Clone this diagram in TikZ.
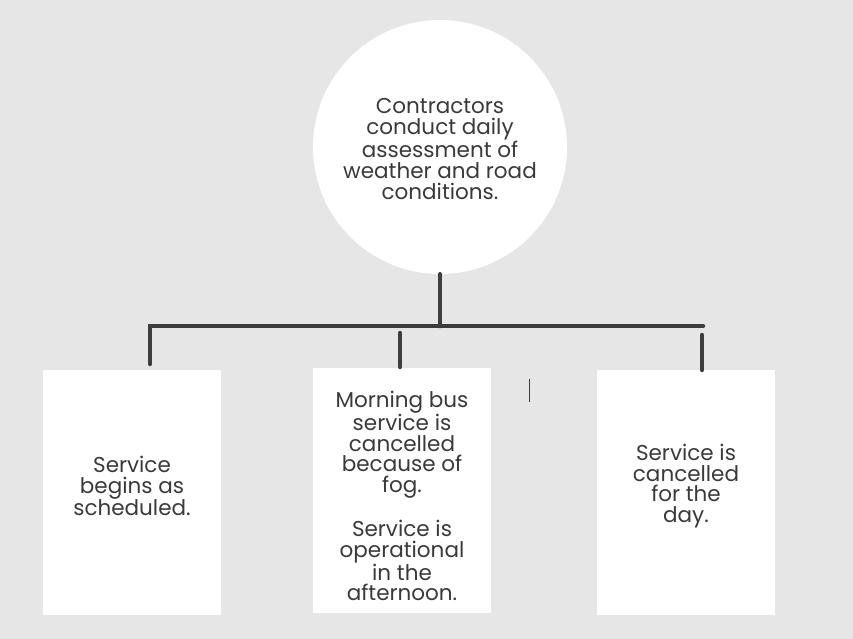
\documentclass[tikz,border=0pt]{standalone}
\usepackage{fontspec}
\setmainfont{Poppins}
\definecolor{bgc}{HTML}{E6E6E6}
\definecolor{linec}{HTML}{3D3D3D}
\definecolor{textc}{HTML}{3A3A3A}
\begin{document}
\begin{tikzpicture}[x=1pt,y=-1pt,
  conn/.style={line width=4.5pt, draw=linec, line cap=round},
  card/.style={fill=white, minimum width=178pt, minimum height=245pt, inner sep=0pt},
  txt/.style={text=textc, align=center, inner sep=0pt,
              font=\fontsize{21.5}{20.7}\selectfont}]
  % page background
  \fill[bgc] (0,0) rectangle (853,639);
  \useasboundingbox (0,0) rectangle (853,639);

  % top circle
  \node[circle, fill=white, minimum size=254pt, inner sep=0pt] (top) at (440,147) {};
  \node[txt] (toptext) at (440,149)
    {Contractors\\conduct daily\\assessment of\\weather and road\\conditions.};

  % outcome cards
  \node[card] (left)  at (132,492) {};
  \node[card] (mid)   at (402,490) {};
  \node[card] (right) at (686,492) {};

  \node[txt] (lefttext) at (132,486) {Service\\begins as\\scheduled.};
  \node[txt] (midtext) at (402,496)
    {Morning bus\\service is\\cancelled\\because of\\fog.\\[20.7pt]Service is\\operational\\in the\\afternoon.};
  \node[txt] (righttext) at (686,486) {Service is\\cancelled\\for the\\day.};

  % branching connectors
  \coordinate (barL) at (150,326);
  \coordinate (barR) at (703,326);
  \coordinate (midA) at (400,333);
  \coordinate (midB) at (400,367);
  \coordinate (rightA) at (702,335);
  \coordinate (rightB) at (702,370);
  \coordinate (leftB) at (150,364);

  \draw[conn] (top.south) -- (top.south |- barL);
  \draw[conn] (leftB) -- (barL) -- (barR);
  \draw[conn] (midA) -- (midB);
  \draw[conn] (rightA) -- (rightB);

  % thin text cursor mark
  \coordinate (curA) at (529,379);
  \coordinate (curB) at (529,402);
  \draw[linec, line width=1pt] (curA) -- (curB);
\end{tikzpicture}
\end{document}
